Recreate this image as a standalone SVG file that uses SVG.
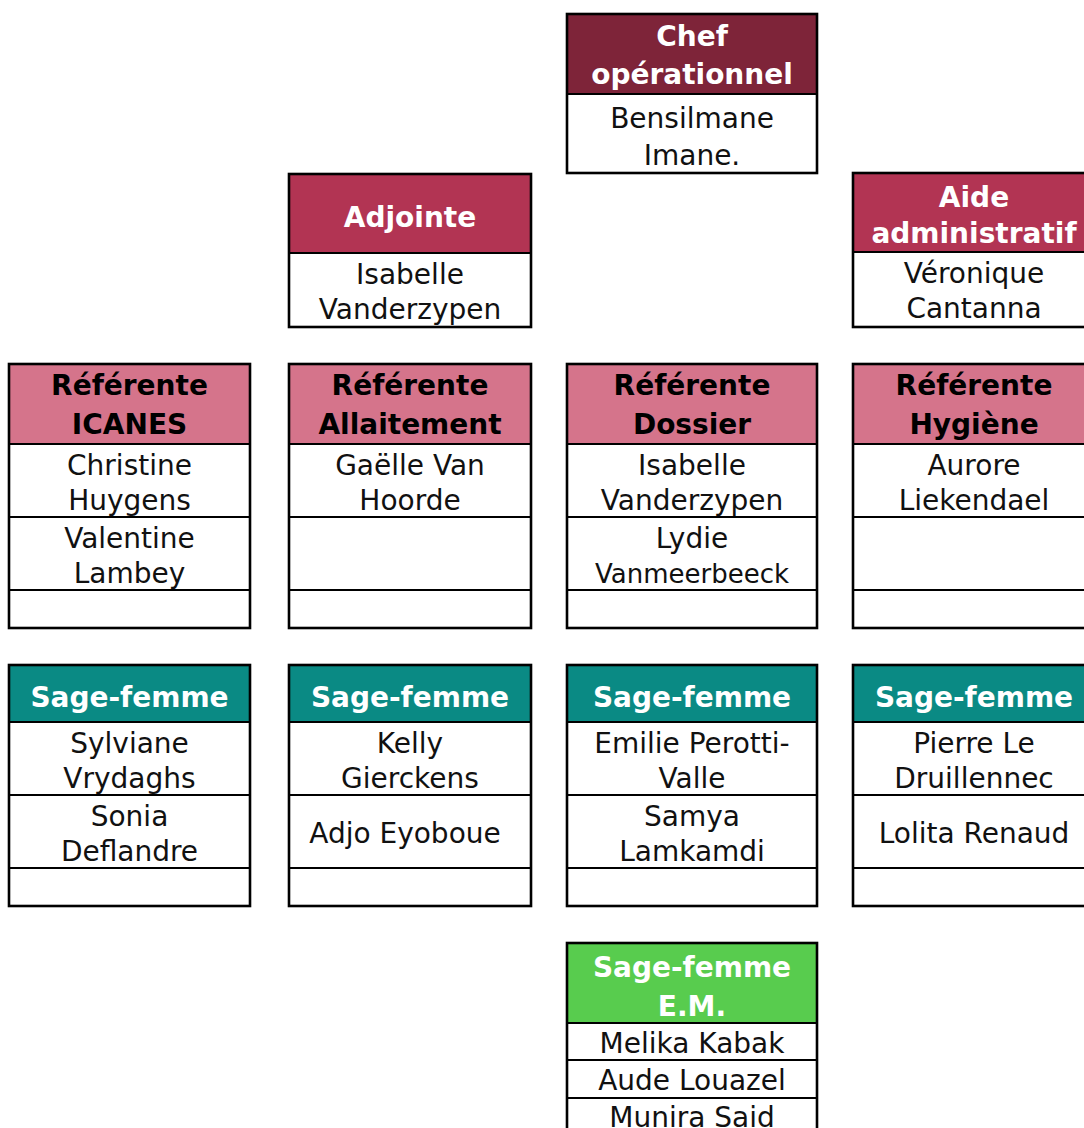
<svg xmlns="http://www.w3.org/2000/svg" width="1084" height="1128" viewBox="0 0 1084 1128">
<style>
.bg{fill:#ffffff}
.box{fill:none;stroke:#000;stroke-width:2.6}
.div{stroke:#000;stroke-width:2.2}
.chef{fill:#7E2439}
.adj{fill:#B23453}
.ref{fill:#D5748B}
.sf{fill:#0A8A84}
.em{fill:#58CC4E}
text{font-family:"DejaVu Sans","Liberation Sans",sans-serif;font-size:28px;text-anchor:middle}
.hw{font-weight:bold;fill:#ffffff}
.hb{font-weight:bold;fill:#000000}
.b{fill:#111111}
</style>
<rect x="0" y="0" width="1084" height="1128" class="bg"/>
<g id="connectors"/>

<g id="chef">
<rect x="567" y="14" width="250" height="80" class="chef"/>
<text x="692" y="46" class="hw">Chef</text>
<text x="692" y="84" class="hw">opérationnel</text>
<text x="692" y="128" class="b">Bensilmane</text>
<text x="692" y="165" class="b">Imane.</text>
<line x1="567" y1="94" x2="817" y2="94" class="div"/>
<rect x="567" y="14" width="250" height="159" class="box"/>
</g>

<g id="adjointe">
<rect x="289" y="174" width="242" height="79" class="adj"/>
<text x="410" y="227" class="hw">Adjointe</text>
<text x="410" y="284" class="b">Isabelle</text>
<text x="410" y="319" class="b">Vanderzypen</text>
<line x1="289" y1="253" x2="531" y2="253" class="div"/>
<rect x="289" y="174" width="242" height="153" class="box"/>
</g>

<g id="aide">
<rect x="853" y="173" width="242" height="79" class="adj"/>
<text x="974" y="207" class="hw">Aide</text>
<text x="974" y="243" class="hw">administratif</text>
<text x="974" y="283" class="b">Véronique</text>
<text x="974" y="318" class="b">Cantanna</text>
<line x1="853" y1="252" x2="1095" y2="252" class="div"/>
<rect x="853" y="173" width="242" height="154" class="box"/>
</g>

<g id="ref-icanes">
<rect x="9" y="364" width="241" height="80" class="ref"/>
<text x="129.5" y="395" class="hb">Référente</text>
<text x="129.5" y="434" class="hb">ICANES</text>
<text x="129.5" y="475" class="b">Christine</text>
<text x="129.5" y="510" class="b">Huygens</text>
<text x="129.5" y="548" class="b">Valentine</text>
<text x="129.5" y="583" class="b">Lambey</text>
<line x1="9" y1="444" x2="250" y2="444" class="div"/>
<line x1="9" y1="517" x2="250" y2="517" class="div"/>
<line x1="9" y1="590" x2="250" y2="590" class="div"/>
<rect x="9" y="364" width="241" height="264" class="box"/>
</g>

<g id="ref-allaitement">
<rect x="289" y="364" width="242" height="80" class="ref"/>
<text x="410" y="395" class="hb">Référente</text>
<text x="410" y="434" class="hb">Allaitement</text>
<text x="410" y="475" class="b">Gaëlle Van</text>
<text x="410" y="510" class="b">Hoorde</text>
<line x1="289" y1="444" x2="531" y2="444" class="div"/>
<line x1="289" y1="517" x2="531" y2="517" class="div"/>
<line x1="289" y1="590" x2="531" y2="590" class="div"/>
<rect x="289" y="364" width="242" height="264" class="box"/>
</g>

<g id="ref-dossier">
<rect x="567" y="364" width="250" height="80" class="ref"/>
<text x="692" y="395" class="hb">Référente</text>
<text x="692" y="434" class="hb">Dossier</text>
<text x="692" y="475" class="b">Isabelle</text>
<text x="692" y="510" class="b">Vanderzypen</text>
<text x="692" y="548" class="b">Lydie</text>
<text x="692" y="583" class="b" style="font-size:26px">Vanmeerbeeck</text>
<line x1="567" y1="444" x2="817" y2="444" class="div"/>
<line x1="567" y1="517" x2="817" y2="517" class="div"/>
<line x1="567" y1="590" x2="817" y2="590" class="div"/>
<rect x="567" y="364" width="250" height="264" class="box"/>
</g>

<g id="ref-hygiene">
<rect x="853" y="364" width="242" height="80" class="ref"/>
<text x="974" y="395" class="hb">Référente</text>
<text x="974" y="434" class="hb">Hygiène</text>
<text x="974" y="475" class="b">Aurore</text>
<text x="974" y="510" class="b">Liekendael</text>
<line x1="853" y1="444" x2="1095" y2="444" class="div"/>
<line x1="853" y1="517" x2="1095" y2="517" class="div"/>
<line x1="853" y1="590" x2="1095" y2="590" class="div"/>
<rect x="853" y="364" width="242" height="264" class="box"/>
</g>

<g id="sf-1">
<rect x="9" y="665" width="241" height="57" class="sf"/>
<text x="129.5" y="707" class="hw">Sage-femme</text>
<text x="129.5" y="753" class="b">Sylviane</text>
<text x="129.5" y="788" class="b">Vrydaghs</text>
<text x="129.5" y="826" class="b">Sonia</text>
<text x="129.5" y="861" class="b">Deflandre</text>
<line x1="9" y1="722" x2="250" y2="722" class="div"/>
<line x1="9" y1="795" x2="250" y2="795" class="div"/>
<line x1="9" y1="868" x2="250" y2="868" class="div"/>
<rect x="9" y="665" width="241" height="241" class="box"/>
</g>

<g id="sf-2">
<rect x="289" y="665" width="242" height="57" class="sf"/>
<text x="410" y="707" class="hw">Sage-femme</text>
<text x="410" y="753" class="b">Kelly</text>
<text x="410" y="788" class="b">Gierckens</text>
<text x="405" y="843" class="b">Adjo Eyoboue</text>
<line x1="289" y1="722" x2="531" y2="722" class="div"/>
<line x1="289" y1="795" x2="531" y2="795" class="div"/>
<line x1="289" y1="868" x2="531" y2="868" class="div"/>
<rect x="289" y="665" width="242" height="241" class="box"/>
</g>

<g id="sf-3">
<rect x="567" y="665" width="250" height="57" class="sf"/>
<text x="692" y="707" class="hw">Sage-femme</text>
<text x="692" y="753" class="b">Emilie Perotti-</text>
<text x="692" y="788" class="b">Valle</text>
<text x="692" y="826" class="b">Samya</text>
<text x="692" y="861" class="b">Lamkamdi</text>
<line x1="567" y1="722" x2="817" y2="722" class="div"/>
<line x1="567" y1="795" x2="817" y2="795" class="div"/>
<line x1="567" y1="868" x2="817" y2="868" class="div"/>
<rect x="567" y="665" width="250" height="241" class="box"/>
</g>

<g id="sf-4">
<rect x="853" y="665" width="242" height="57" class="sf"/>
<text x="974" y="707" class="hw">Sage-femme</text>
<text x="974" y="753" class="b">Pierre Le</text>
<text x="974" y="788" class="b">Druillennec</text>
<text x="974" y="843" class="b">Lolita Renaud</text>
<line x1="853" y1="722" x2="1095" y2="722" class="div"/>
<line x1="853" y1="795" x2="1095" y2="795" class="div"/>
<line x1="853" y1="868" x2="1095" y2="868" class="div"/>
<rect x="853" y="665" width="242" height="241" class="box"/>
</g>

<g id="sf-em">
<rect x="567" y="943" width="250" height="80" class="em"/>
<text x="692" y="977" class="hw">Sage-femme</text>
<text x="692" y="1016" class="hw">E.M.</text>
<text x="692" y="1053" class="b">Melika Kabak</text>
<text x="692" y="1090" class="b">Aude Louazel</text>
<text x="692" y="1127" class="b">Munira Said</text>
<line x1="567" y1="1023" x2="817" y2="1023" class="div"/>
<line x1="567" y1="1060" x2="817" y2="1060" class="div"/>
<line x1="567" y1="1098" x2="817" y2="1098" class="div"/>
<rect x="567" y="943" width="250" height="193" class="box"/>
</g>
</svg>
